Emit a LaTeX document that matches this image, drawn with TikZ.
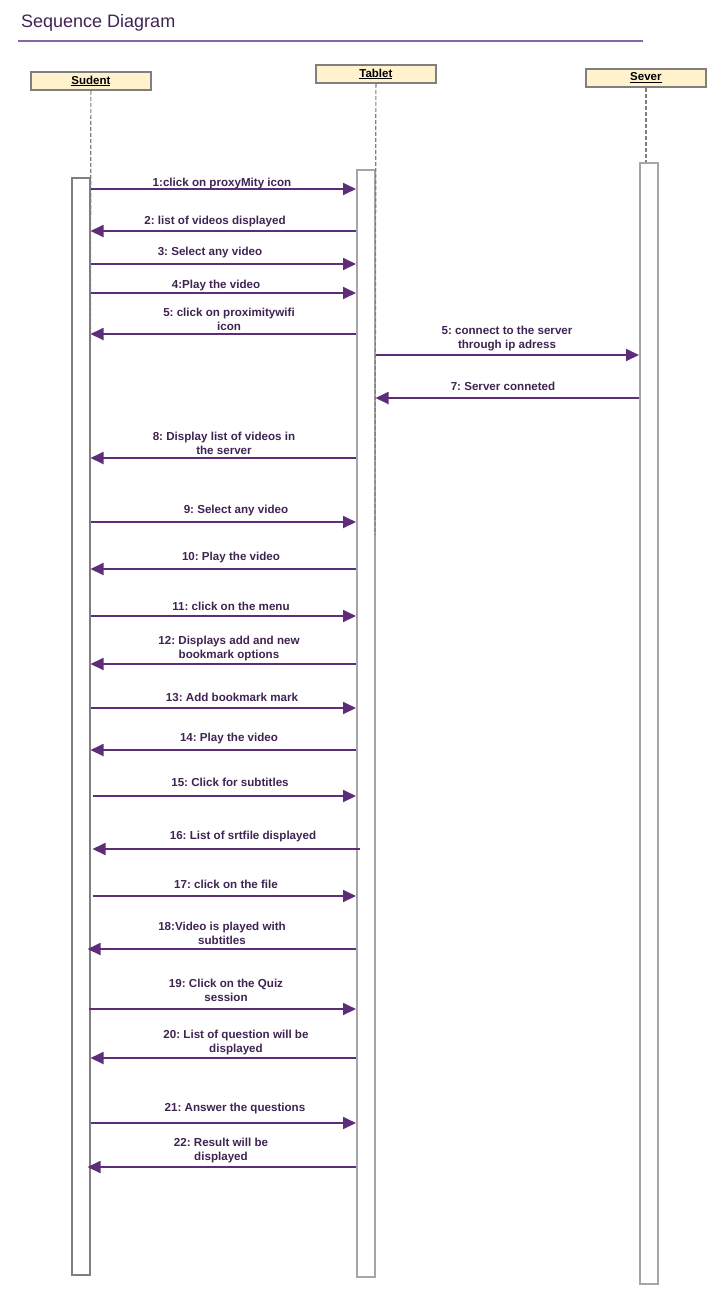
\documentclass[tikz,border=0pt]{standalone}
\usepackage{fontspec}
\setmainfont{Liberation Sans}
\usetikzlibrary{arrows.meta}
\frenchspacing
\definecolor{msgc}{HTML}{5E2D7A}
\definecolor{txtc}{HTML}{3F2452}
\definecolor{rulec}{HTML}{8C62A2}
\definecolor{hdrfill}{HTML}{FFF2CC}
\definecolor{boxc}{HTML}{7F7F7F}
\definecolor{boxc2}{HTML}{A6A6A6}
\tikzset{
  hdr/.style={draw=boxc, line width=1.8pt, fill=hdrfill, minimum width=120pt, minimum height=18pt, anchor=north west, inner sep=0pt, font=\fontsize{11.5}{12}\selectfont\bfseries, text=black},
  actbox/.style={draw=#1, line width=1.5pt, fill=white, minimum width=18pt, anchor=north west, inner sep=0pt},
  life/.style={draw=boxc, line width=1.2pt, dash pattern=on 4pt off 2pt},
  msg/.style={draw=msgc, line width=1.8pt, -{Triangle[length=13pt,width=12pt]}},
  lbl/.style={text=txtc, font=\fontsize{11.6}{14}\selectfont\bfseries, align=center, inner sep=0pt}
}
\begin{document}
\begin{tikzpicture}[x=1pt, y=-1pt]
\useasboundingbox (0,0) rectangle (727,1303);
% title
\node[anchor=west, text=txtc, font=\fontsize{18}{20}\selectfont, inner sep=0pt] (title) at (21,23) {Sequence Diagram};
\coordinate (ruleL) at (18,41);
\coordinate (ruleR) at (643,41);
\draw[rulec, line width=2.6pt] (ruleL) -- (ruleR);
% headers
\node[hdr] (hS) at (30,71) {\underline{Sudent}};
\node[hdr] (hT) at (315,64) {\underline{Tablet}};
\node[hdr] (hV) at (585,68) {\underline{Sever}};
% activation boxes
\node[actbox=boxc, minimum height=1097pt] (aS) at (71,177) {};
\node[actbox=boxc2, minimum height=1107pt] (aT) at (356,169) {};
\node[actbox=boxc2, minimum height=1121pt] (aV) at (639,162) {};
% lifelines
\coordinate (endS) at (90,542);
\coordinate (endT) at (375,535);
\draw[life] (hS.south) -- (endS);
\draw[life] (hT.south) -- (endT);
\draw[life] (hV.south) -- (hV.south |- aV.north);
% messages
\draw[msg] (aS.east |- 0,189) -- (aT.west |- 0,189);
\node[lbl] (m1) at (222,183) {1:click on proxyMity icon};
\draw[msg] (aT.west |- 0,231) -- (aS.east |- 0,231);
\node[lbl] (m2) at (215,221) {2: list of videos displayed};
\draw[msg] (aS.east |- 0,264) -- (aT.west |- 0,264);
\node[lbl] (m3) at (210,252) {3: Select any video};
\draw[msg] (aS.east |- 0,293) -- (aT.west |- 0,293);
\node[lbl] (m4) at (216,285) {4:Play the video};
\draw[msg] (aT.west |- 0,334) -- (aS.east |- 0,334);
\node[lbl] (m5) at (229,319) {5: click on proximitywifi\\icon};
\draw[msg] (aT.east |- 0,355) -- (aV.west |- 0,355);
\node[lbl] (m6) at (507,339) {5: connect to the server\\through ip adress};
\draw[msg] (aV.west |- 0,398) -- (aT.east |- 0,398);
\node[lbl] (m7) at (503,386) {7: Server conneted};
\draw[msg] (aT.west |- 0,458) -- (aS.east |- 0,458);
\node[lbl] (m8) at (224,443) {8: Display list of videos in\\the server};
\draw[msg] (aS.east |- 0,522) -- (aT.west |- 0,522);
\node[lbl] (m9) at (236,510) {9: Select any video};
\draw[msg] (aT.west |- 0,569) -- (aS.east |- 0,569);
\node[lbl] (m10) at (231,557) {10: Play the video};
\draw[msg] (aS.east |- 0,616) -- (aT.west |- 0,616);
\node[lbl] (m11) at (231,606) {11: click on the menu};
\draw[msg] (aT.west |- 0,664) -- (aS.east |- 0,664);
\node[lbl] (m12) at (229,648) {12: Displays add and new\\bookmark options};
\draw[msg] (aS.east |- 0,708) -- (aT.west |- 0,708);
\node[lbl] (m13) at (232,697) {13: Add bookmark mark};
\draw[msg] (aT.west |- 0,750) -- (aS.east |- 0,750);
\node[lbl] (m14) at (229,738) {14: Play the video};
\draw[msg] ([xshift=2pt]aS.east |- 0,796) -- (aT.west |- 0,796);
\node[lbl] (m15) at (230,782) {15: Click for subtitles};
\draw[msg] ([xshift=4pt]aT.west |- 0,849) -- ([xshift=2pt]aS.east |- 0,849);
\node[lbl] (m16) at (243,836) {16: List of srtfile displayed};
\draw[msg] ([xshift=2pt]aS.east |- 0,896) -- (aT.west |- 0,896);
\node[lbl] (m17) at (226,884) {17: click on the file};
\draw[msg] (aT.west |- 0,949) -- ([xshift=-3pt]aS.east |- 0,949);
\node[lbl] (m18) at (222,933) {18:Video is played with\\subtitles};
\draw[msg] ([xshift=-2pt]aS.east |- 0,1009) -- (aT.west |- 0,1009);
\node[lbl] (m19) at (226,990) {19: Click on the Quiz\\session};
\draw[msg] (aT.west |- 0,1058) -- (aS.east |- 0,1058);
\node[lbl] (m20) at (236,1042) {20: List of question will be\\displayed};
\draw[msg] (aS.east |- 0,1123) -- (aT.west |- 0,1123);
\node[lbl] (m21) at (235,1108) {21: Answer the questions};
\draw[msg] (aT.west |- 0,1167) -- ([xshift=-3pt]aS.east |- 0,1167);
\node[lbl] (m22) at (221,1150) {22: Result will be\\displayed};
\end{tikzpicture}
\end{document}
